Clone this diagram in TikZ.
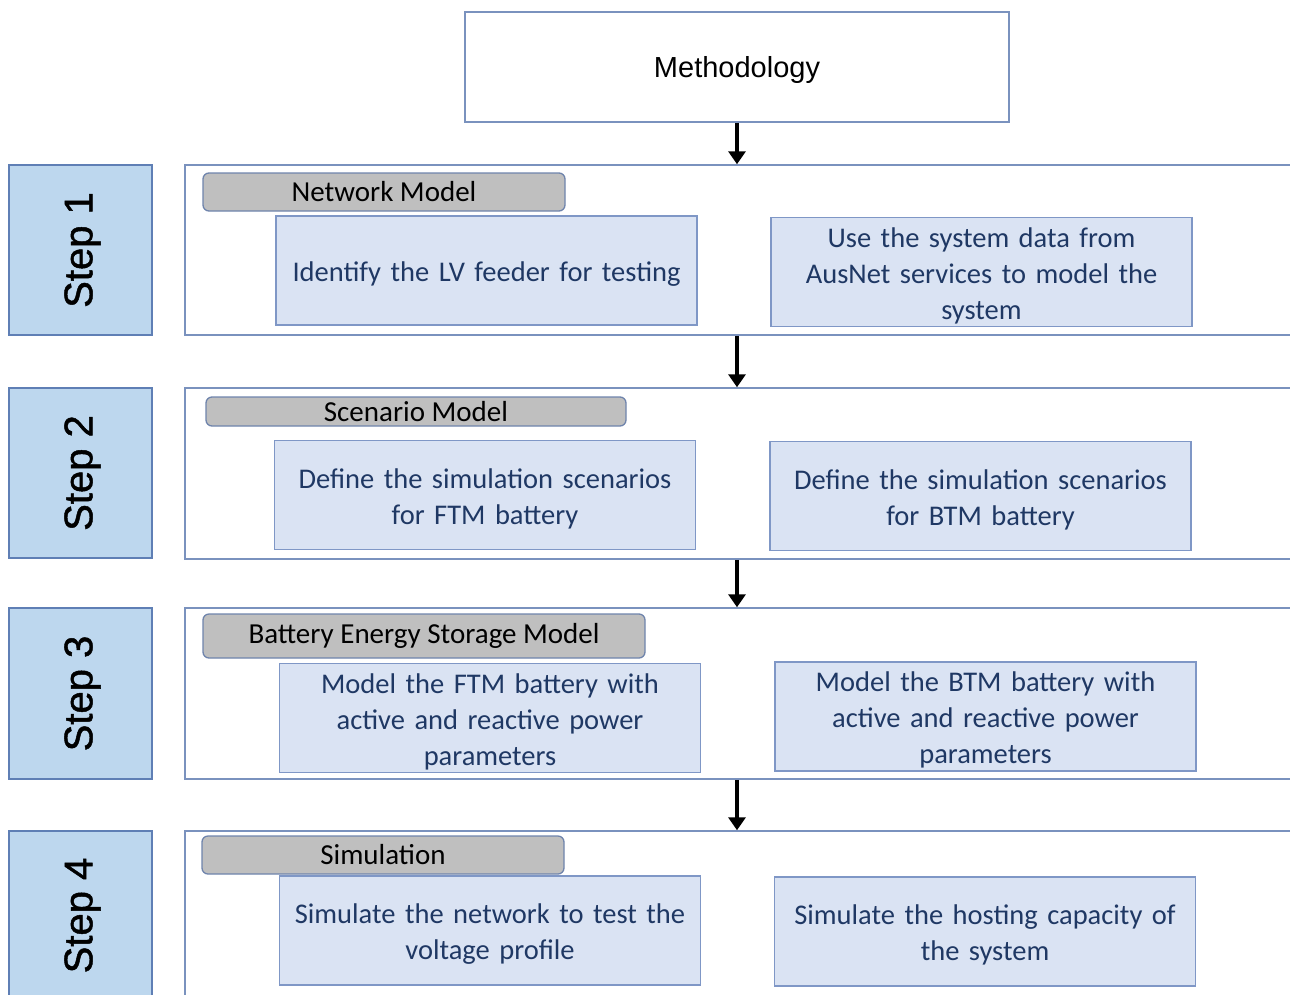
\documentclass[tikz,border=0pt]{standalone}
\usepackage{fontspec}
\setmainfont{Carlito}
\newfontfamily\arialf{Liberation Sans}
\newfontfamily\arialstep[FakeBold=1.2]{Liberation Sans}
\usetikzlibrary{arrows.meta,calc}
\definecolor{stepfill}{HTML}{BDD7EE}
\definecolor{stepdraw}{HTML}{5F7FB5}
\definecolor{panedraw}{HTML}{7A92BE}
\definecolor{innfill}{HTML}{DAE3F3}
\definecolor{inndraw}{HTML}{7F97C6}
\definecolor{inntext}{HTML}{1F3864}
\definecolor{grayfill}{HTML}{BFBFBF}
\definecolor{graydraw}{HTML}{6F84AC}
\tikzset{
  steplabel/.style={draw=stepdraw, fill=stepfill, line width=1.5pt, inner sep=0pt,
    minimum width=143pt},
  steptext/.style={rotate=90, inner sep=0pt, font=\arialstep\fontsize{40}{44}\selectfont},
  panel/.style={draw=panedraw, line width=1.5pt, inner sep=0pt},
  topbox/.style={draw=panedraw, line width=1.5pt, inner sep=0pt, minimum width=544pt,
    minimum height=110pt, text height=24pt, text depth=3pt,
    font=\arialf\fontsize{29}{34}\selectfont},
  graylab/.style={draw=graydraw, fill=grayfill, line width=1.3pt, rounded corners=6pt,
    inner sep=0pt, font=\fontsize{29}{34}\selectfont},
  innbox/.style={draw=inndraw, fill=innfill, line width=1.3pt, inner sep=0pt,
    minimum width=421pt, minimum height=109pt},
  inntxt/.style={inner sep=0pt, text=inntext, text width=410pt, align=center,
    font=\fontsize{28.5}{36}\selectfont},
  flowarrow/.style={line width=4pt, -{Triangle[length=13pt,width=17pt]}}
}
\begin{document}
\begin{tikzpicture}[x=1pt,y=-1pt]
\useasboundingbox (0,0) rectangle (1290,994);
% top box
\node[topbox] (meth) at (737,67) {Methodology};
% panels (open to the right, beyond the page)
\node[panel, minimum width=1125pt, minimum height=170pt] (p1) at (747.5,250) {};
\node[panel, minimum width=1125pt, minimum height=171pt] (p2) at (747.5,473.5) {};
\node[panel, minimum width=1125pt, minimum height=171pt] (p3) at (747.5,693.5) {};
\node[panel, minimum width=1125pt, minimum height=175pt] (p4) at (747.5,918.5) {};
% step labels
\node[steplabel, minimum height=170pt] (s1) at (80.5,250) {};
\node[steptext] (t1) at ([xshift=2pt]s1.center) {Step 1};
\node[steplabel, minimum height=170pt] (s2) at (80.5,473) {};
\node[steptext] (t2) at ([xshift=2pt]s2.center) {Step 2};
\node[steplabel, minimum height=171pt] (s3) at (80.5,693.5) {};
\node[steptext] (t3) at ([xshift=2pt]s3.center) {Step 3};
\node[steplabel, minimum height=169pt] (s4) at (80.5,915.5) {};
\node[steptext] (t4) at ([xshift=2pt]s4.center) {Step 4};
% gray labels
\node[graylab, minimum width=362pt, minimum height=38pt] (g1) at (384,192) {Network Model};
\node[graylab, minimum width=420pt, minimum height=29pt] (g2) at (416,411.5) {Scenario Model};
\node[graylab, minimum width=442pt, minimum height=44pt] (g3) at (424,636) {Battery Energy Storage Model};
\node[graylab, minimum width=362pt, minimum height=38pt] (g4) at (383,855) {Simulation};
% inner boxes
\node[innbox] (a1) at (486.5,270.5) {};
\node[inntxt] (a1t) at ([yshift=-3.5pt]a1.center) {Identify the LV feeder for testing};
\node[innbox] (b1) at (981.5,272) {};
\node[inntxt] (b1t) at ([yshift=-3.5pt]b1.center) {Use the system data from\\AusNet services to model the\\system};
\node[innbox] (a2) at (485,495) {};
\node[inntxt] (a2t) at ([yshift=-3.5pt]a2.center) {Define the simulation scenarios\\for FTM battery};
\node[innbox] (b2) at (980.5,496) {};
\node[inntxt] (b2t) at ([yshift=-3.5pt]b2.center) {Define the simulation scenarios\\for BTM battery};
\node[innbox] (a3) at (490,718) {};
\node[inntxt] (a3t) at ([yshift=-3.5pt]a3.center) {Model the FTM battery with\\active and reactive power\\parameters};
\node[innbox] (b3) at (985.5,716.5) {};
\node[inntxt] (b3t) at ([yshift=-3.5pt]b3.center) {Model the BTM battery with\\active and reactive power\\parameters};
\node[innbox] (a4) at (490,930.5) {};
\node[inntxt] (a4t) at ([yshift=-3.5pt]a4.center) {Simulate the network to test the\\voltage profile};
\node[innbox] (b4) at (985,931.5) {};
\node[inntxt] (b4t) at ([yshift=-3.5pt]b4.center) {Simulate the hosting capacity of\\the system};
% arrows
\draw[flowarrow] (meth.south) -- (meth.south |- p1.north);
\draw[flowarrow] (meth.south |- p1.south) -- (meth.south |- p2.north);
\draw[flowarrow] (meth.south |- p2.south) -- (meth.south |- p3.north);
\draw[flowarrow] (meth.south |- p3.south) -- (meth.south |- p4.north);
\end{tikzpicture}
\end{document}
